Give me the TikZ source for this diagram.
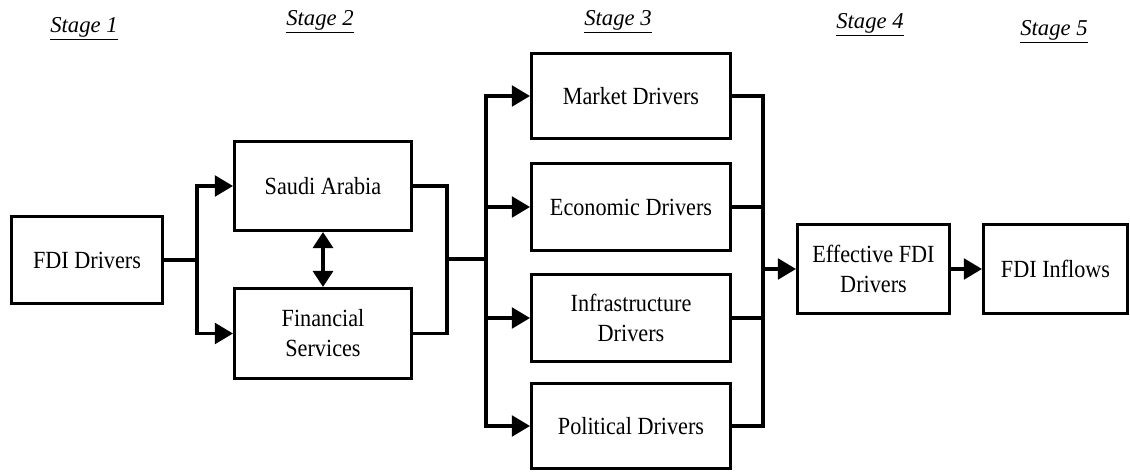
\documentclass[tikz,border=0pt]{standalone}
\usepackage{fontspec}
\setmainfont{Liberation Serif}
\newfontfamily\boxfont[FakeStretch=0.9]{Liberation Serif}
\usetikzlibrary{arrows.meta, positioning, calc}

\begin{document}
\begin{tikzpicture}[
  x=0.75pt, y=-0.75pt,
  dbox/.style={draw, line width=2.3pt, inner sep=0pt, align=center,
    font=\boxfont\fontsize{18.5}{22.5}\selectfont},
  link/.style={line width=2.3pt},
  flow/.style={line width=2.3pt, -{Triangle[length=13.5pt, width=15.5pt]}},
  stagelbl/.style={anchor=base, inner sep=0pt, font=\itshape\fontsize{17}{20}\selectfont}
]
  \useasboundingbox (0,0) rectangle (1130,473);

  % stage headings
  \node[stagelbl] (st1) at (84,33) {\underline{Stage 1}};
  \node[stagelbl] (st2) at (320,26) {\underline{Stage 2}};
  \node[stagelbl] (st3) at (618,26) {\underline{Stage 3}};
  \node[stagelbl] (st4) at (870,29) {\underline{Stage 4}};
  \node[stagelbl] (st5) at (1054,36) {\underline{Stage 5}};

  % boxes (sizes in pt)
  \node[dbox, minimum width=113.25pt, minimum height=65.25pt] (fdi) at (87,260) {FDI Drivers};
  \node[dbox, minimum width=132.75pt, minimum height=66.75pt] (saudi) at (323,186) {Saudi Arabia};
  \node[dbox, minimum width=132.75pt, minimum height=67.5pt] (fin) at (323,333.5) {Financial\\Services};
  \node[dbox, minimum width=149.25pt, minimum height=63.75pt] (market) at (631,96) {Market Drivers};
  \node[dbox, minimum width=149.25pt, minimum height=65.25pt] (econ) at (631,207) {Economic Drivers};
  \node[dbox, minimum width=149.25pt, minimum height=65.25pt] (infra) at (631,318) {Infrastructure\\Drivers};
  \node[dbox, minimum width=149.25pt, minimum height=63.75pt] (pol) at (631,426) {Political Drivers};
  \node[dbox, minimum width=114pt, minimum height=66.75pt] (eff) at (873.5,269) {Effective FDI\\Drivers};
  \node[dbox, minimum width=108pt, minimum height=66.75pt] (inflow) at (1055.5,269) {FDI Inflows};

  % junctions
  \coordinate (j1) at (197,260);
  \coordinate (j2) at (447,259);
  \coordinate (j3) at (486,259);
  \coordinate (j4) at (763,269);

  % stage 1 -> stage 2
  \draw[link] (fdi.east) -- (j1);
  \draw[flow] (j1) |- (saudi.west);
  \draw[flow] (j1) |- (fin.west);
  \draw[line width=2.3pt, {Triangle[length=12pt, width=15pt]}-{Triangle[length=12pt, width=15pt]}] (saudi) -- (fin);

  % stage 2 -> stage 3
  \draw[link] (saudi.east) -| (j2) |- (fin.east);
  \draw[link] (j2) -- (j3);
  \foreach \b in {market, econ, infra, pol}
    \draw[flow] (j3) |- (\b.west);

  % stage 3 -> stage 4 -> stage 5
  \foreach \b in {market, econ, infra, pol}
    \draw[link] (\b.east) -| (j4);
  \draw[flow] (j4) -- (eff.west);
  \draw[flow] (eff) -- (inflow);
\end{tikzpicture}
\end{document}
